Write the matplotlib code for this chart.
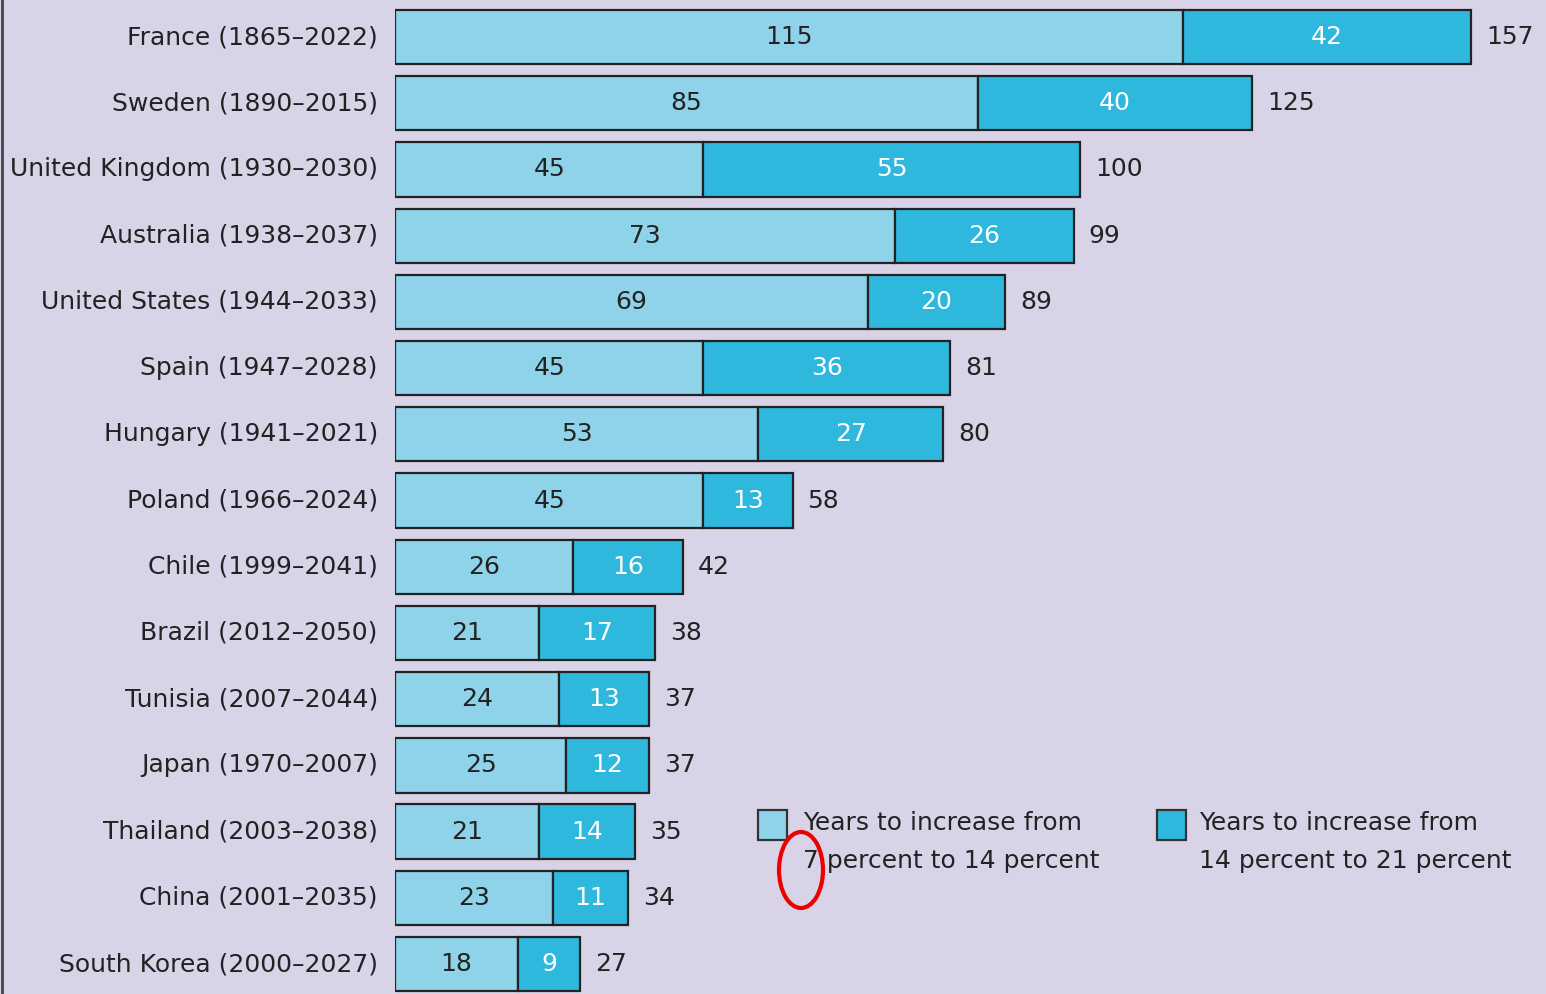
import matplotlib.pyplot as plt
from matplotlib.patches import Rectangle, Ellipse
from matplotlib.lines import Line2D

countries = ['France (1865–2022)', 'Sweden (1890–2015)', 'United Kingdom (1930–2030)',
             'Australia (1938–2037)', 'United States (1944–2033)', 'Spain (1947–2028)',
             'Hungary (1941–2021)', 'Poland (1966–2024)', 'Chile (1999–2041)',
             'Brazil (2012–2050)', 'Tunisia (2007–2044)', 'Japan (1970–2007)',
             'Thailand (2003–2038)', 'China (2001–2035)', 'South Korea (2000–2027)']
years_7_14 = [115, 85, 45, 73, 69, 45, 53, 45, 26, 21, 24, 25, 21, 23, 18]
years_14_21 = [42, 40, 55, 26, 20, 36, 27, 13, 16, 17, 13, 12, 14, 11, 9]
series_names = ['Years to increase from\n7 percent to 14 percent',
                'Years to increase from\n14 percent to 21 percent']

bg = '#d9d3e8'
light = '#8fd3ea'
dark = '#2fb8de'
plt.rcParams['font.family'] = ['DejaVu Sans']

fig = plt.figure(figsize=(15.46, 9.94), dpi=100)
fig.patch.set_facecolor(bg)
W, H = 1546, 994
ax = fig.add_axes([395 / W, 0, 1151 / W, 1])
ax.set_facecolor(bg)

y = list(range(len(countries)))
ax.barh(y, years_7_14, height=0.82, color=light, edgecolor='#222222', linewidth=1.6)
ax.barh(y, years_14_21, left=years_7_14, height=0.82, color=dark, edgecolor='#222222', linewidth=1.6)

for i in y:
    a, b = years_7_14[i], years_14_21[i]
    ax.text(a / 2, i, str(a), ha='center', va='center', fontsize=18, color='#222222')
    ax.text(a + b / 2, i, str(b), ha='center', va='center', fontsize=18, color='white')
    ax.text(a + b + 2.2, i, str(a + b), ha='left', va='center', fontsize=18, color='#222222')
    ax.text(-2.5, i, countries[i], ha='right', va='center', fontsize=18, color='#222222', clip_on=False)

ax.set_xlim(0, 1151 / 6.854)
ax.set_ylim(14.453, -0.559)
ax.axis('off')

# legend
for (sx, tx), name, col in zip([(758, 803), (1157, 1199)], series_names, [light, dark]):
    fig.patches.append(Rectangle((sx / W, 1 - 840 / H), 29 / W, 30 / H, transform=fig.transFigure,
                                 facecolor=col, edgecolor='#333333', linewidth=1.6))
    fig.text(tx / W, 1 - 811 / H, name, ha='left', va='top', fontsize=18, color='#222222',
             linespacing=1.75)

fig.patches.append(Ellipse((801 / W, 1 - 870 / H), 44 / W, 76 / H, transform=fig.transFigure,
                           facecolor='none', edgecolor='#ee0000', linewidth=3))
fig.lines.append(Line2D([2 / W, 2 / W], [0, 1], transform=fig.transFigure, color='#444444', linewidth=2))

fig.savefig('out.png', dpi=100, facecolor=bg)
